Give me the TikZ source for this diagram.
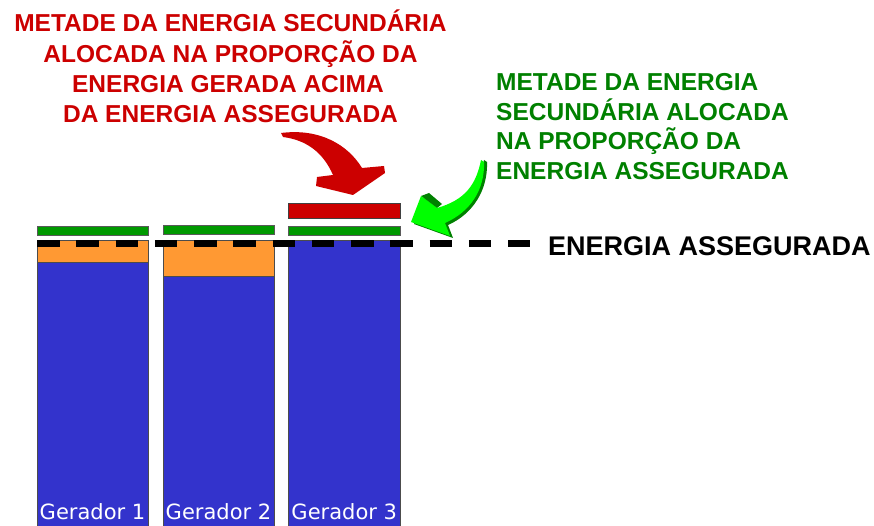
\documentclass[tikz,border=0pt]{standalone}
\usepackage{fontspec}
\setmainfont{Liberation Sans}
\newfontfamily\labelfont{DejaVu Sans}
\definecolor{gblue}{RGB}{51,51,204}
\definecolor{gorange}{RGB}{255,153,51}
\definecolor{ggreen}{RGB}{0,153,0}
\definecolor{gred}{RGB}{204,0,0}
\definecolor{tred}{RGB}{204,0,0}
\definecolor{tgreen}{RGB}{0,128,0}
\definecolor{lgreen}{RGB}{0,255,0}
\definecolor{dgreen}{RGB}{0,128,0}
\tikzset{
  barblue/.style={fill=gblue, draw=black!70, line width=0.8pt},
  barorange/.style={fill=gorange, draw=black!70, line width=0.8pt},
  stripgreen/.style={fill=ggreen, draw=black!65, line width=0.8pt},
  stripred/.style={fill=gred, draw=black!75, line width=0.8pt},
  redtxt/.style={inner sep=0pt, anchor=base, text=tred, font=\fontsize{24.5}{29}\selectfont\bfseries},
  greentxt/.style={inner sep=0pt, anchor=base west, text=tgreen, font=\fontsize{24.5}{29}\selectfont\bfseries},
  blacktxt/.style={inner sep=0pt, anchor=base west, text=black, font=\fontsize{27}{32}\selectfont\bfseries},
  gentxt/.style={inner sep=0pt, anchor=base, text=white, font=\labelfont\fontsize{21}{25}\selectfont},
  assegline/.style={line width=7pt, dash pattern=on 22.5pt off 16.75pt}
}
\begin{document}
\begin{tikzpicture}[x=1pt,y=-1pt]
\useasboundingbox (0,0) rectangle (874,526);
% bars
\draw[barblue] (37,240) rectangle (148,528);
\draw[barorange] (37,240) rectangle (148,262);
\draw[barblue] (163,240) rectangle (274,528);
\draw[barorange] (163,240) rectangle (274,276.5);
\draw[barblue] (288.5,240) rectangle (400,528);
% strips
\draw[stripgreen] (37,226.7) rectangle (148,235);
\draw[stripgreen] (163,225.7) rectangle (274,234);
\draw[stripgreen] (288.5,226.7) rectangle (400,235);
\draw[stripred] (288.5,203.5) rectangle (400,218.5);
% dashed line
\coordinate (dashL) at (37,243.5);
\coordinate (dashR) at (530,243.5);
\draw[assegline] (dashL) -- (dashR);
% red arrow
\fill[gred] (281,133) .. controls (320,128) and (348,145) .. (362,168)
  -- (384,166) -- (385,173) -- (353,195) -- (316,186) -- (317,177) -- (333,175)
  .. controls (323,152) and (306,140) .. (283,137) -- cycle;
% green arrow (shadow + face)
\fill[dgreen] (484,160) .. controls (479,185) and (468,201) .. (440,210)
  -- (424,198) -- (414,224) -- (453,238) -- (448,225)
  .. controls (473,214) and (488,190) .. (487,162) -- cycle;
\fill[dgreen] (421,196) -- (429,193) -- (442,204) -- (437,208) -- cycle;
\fill[lgreen] (481,160) .. controls (476,185) and (465,200) .. (437,208)
  -- (421,196) -- (411,222) -- (450,236) -- (445,223)
  .. controls (470,212) and (485,190) .. (484,162) -- cycle;
% red text
\node[redtxt] (r1) at (230.5,32) {METADE DA ENERGIA SECUNDÁRIA};
\node[redtxt] (r2) at (230.5,62.3) {ALOCADA NA PROPORÇÃO DA};
\node[redtxt] (r3) at (228,92.6) {ENERGIA GERADA ACIMA};
\node[redtxt] (r4) at (230.5,123) {DA ENERGIA ASSEGURADA};
% green text
\node[greentxt] (g1) at (496,91) {METADE DA ENERGIA};
\node[greentxt] (g2) at (496,120.5) {SECUNDÁRIA ALOCADA};
\node[greentxt] (g3) at (496,149.8) {NA PROPORÇÃO DA};
\node[greentxt] (g4) at (496,179.5) {ENERGIA ASSEGURADA};
% black text
\node[blacktxt] (ea) at (548,255) {ENERGIA ASSEGURADA};
% bar labels
\node[gentxt] (l1) at (92.5,519.3) {Gerador 1};
\node[gentxt] (l2) at (218.5,519.3) {Gerador 2};
\node[gentxt] (l3) at (344.25,519.3) {Gerador 3};
\end{tikzpicture}
\end{document}
